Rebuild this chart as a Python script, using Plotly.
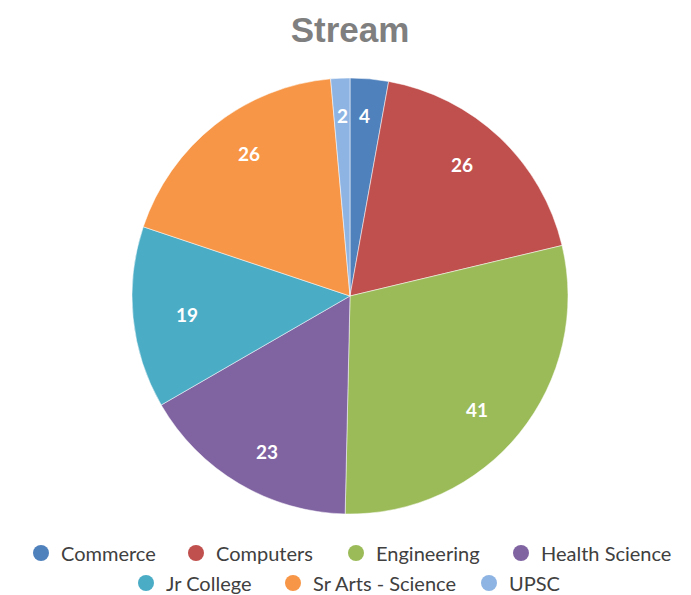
import math
import plotly.graph_objects as go

categories = ["Commerce", "Computers", "Engineering", "Health Science", "Jr College", "Sr Arts - Science", "UPSC"]
values = [4, 26, 41, 23, 19, 26, 2]
colors = ["#4F81BD", "#C0504D", "#9BBB59", "#8064A2", "#4BACC6", "#F79646", "#8EB4E3"]

W, H = 691, 595
cx, cy, r = 350, 296, 218          # visual centre / radius of the pie (px)
lab_fx, lab_fy = 0.75, 0.83         # label distance from centre, as a fraction of r

# legend layout: (circle centre x px, row centre y px) for each entry
legend_pos = [(40, 553), (195, 553), (355, 553), (520, 553), (145, 583), (292, 583), (488, 583)]

fig = go.Figure()
fig.add_trace(go.Pie(
    labels=categories, values=values, sort=False, direction="clockwise", rotation=0,
    marker=dict(colors=colors, line=dict(color="white", width=0.5)),
    textinfo="none",
    showlegend=False, hoverinfo="label+value",
    domain=dict(x=[(cx - r) / W, (cx + r) / W], y=[(H - cy - r) / H, (H - cy + r) / H]),
))

# data labels placed along each slice's bisector (derived from the values)
total = sum(values)
cum = 0
for v in values:
    mid = (cum + v / 2) / total * 2 * math.pi
    cum += v
    px = cx + lab_fx * r * math.sin(mid)
    py = cy - lab_fy * r * math.cos(mid)
    fig.add_annotation(
        x=px / W, y=1 - py / H, xref="paper", yref="paper", text=f"<b>{v}</b>",
        showarrow=False, xanchor="center", yanchor="middle",
        font=dict(family="Lato", size=19, color="white"),
    )

legend_font = dict(family="Lato", size=20, color="#404040")
legend_layout = {}
for i, (c, col, (lx, ly)) in enumerate(zip(categories, colors, legend_pos)):
    key = "legend" if i == 0 else f"legend{i + 1}"
    fig.add_trace(go.Scatter(
        x=[None], y=[None], mode="markers", name=c,
        marker=dict(symbol="circle", size=16, color=col),
        legend=key,
    ))
    legend_layout[key] = dict(
        orientation="h", xref="paper", yref="paper", xanchor="left", yanchor="middle",
        x=(lx - 19) / W, y=1 - ly / H,
        font=legend_font, itemsizing="trace", bgcolor="rgba(0,0,0,0)",
    )

fig.update_layout(
    width=W, height=H,
    margin=dict(l=0, r=0, t=0, b=0, autoexpand=False),
    paper_bgcolor="white", plot_bgcolor="white",
    title=dict(text="<b>Stream</b>", x=0.5 + 4.5 / W, xanchor="center", y=1 - 30 / H, yanchor="middle",
               yref="container", font=dict(family="Liberation Sans", size=35, color="#7F7F7F")),
    xaxis=dict(visible=False), yaxis=dict(visible=False),
    **legend_layout,
)

fig.write_html("out.html", config={"displayModeBar": False},
               post_script="document.body.style.margin='0';")
